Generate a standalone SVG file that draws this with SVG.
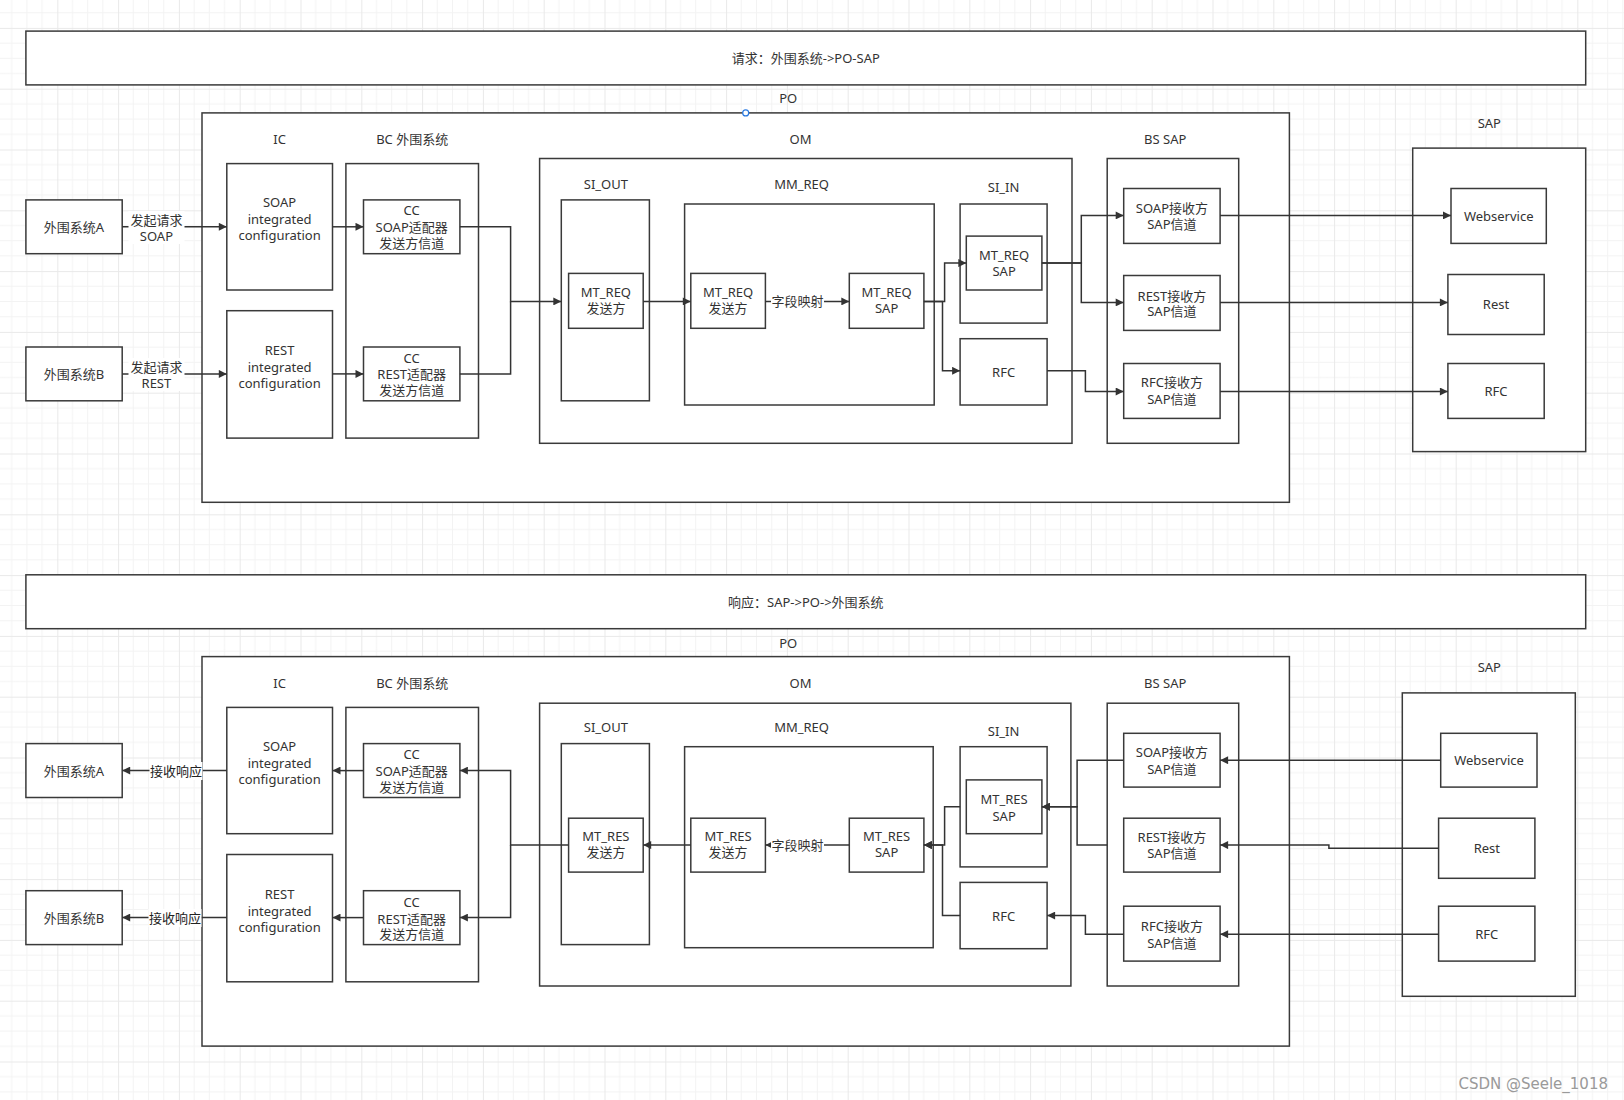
<svg xmlns="http://www.w3.org/2000/svg" width="1624" height="1100" viewBox="0 0 1624 1100">
<defs>
<pattern id="grid" patternUnits="userSpaceOnUse" x="-3.5" y="27.9" width="60.8" height="60.8">
<path d="M15.2,0V60.8M30.4,0V60.8M45.6,0V60.8M0,15.2H60.8M0,30.4H60.8M0,45.6H60.8" stroke="#f3f3f3" stroke-width="1" fill="none"/>
<path d="M0.5,0V60.8M0,0.5H60.8" stroke="#e9e9e9" stroke-width="1" fill="none"/>
</pattern>
<marker id="arr" viewBox="0 0 10 10" refX="10" refY="5" markerUnits="userSpaceOnUse" markerWidth="9" markerHeight="8" orient="auto">
<path d="M0,0L10,5L0,10z" fill="#333"/>
</marker>
<style>
.b{fill:#fff;stroke:#3a3a3a;stroke-width:1.5}
.t{font-family:"Noto Sans","Noto Sans CJK SC",sans-serif;font-size:13px;fill:#333;text-anchor:middle;dominant-baseline:central}
.k{fill:#222}
.c{fill:none;stroke:#333;stroke-width:1.5;marker-end:url(#arr)}
.n{fill:none;stroke:#333;stroke-width:1.5}
.lb{fill:#fff}
</style>
</defs>
<rect width="1624" height="1100" fill="#fff"/>
<rect width="1624" height="1100" fill="url(#grid)"/>

<!-- ===== Request section ===== -->
<g id="banner-req"><rect class="b" x="25.9" y="31.1" width="1559.8" height="53.8"/><text class="t" x="805.8" y="58">请求：外围系统-&gt;PO-SAP</text></g>
<g id="po-req"><rect class="b" x="202" y="112.9" width="1087.4" height="389.4"/><text class="t" x="788.2" y="98.4">PO</text>
<circle cx="745.7" cy="112.9" r="3" fill="#fff" stroke="#2a7ae2" stroke-width="1.2"/>
<text class="t" x="279.6" y="138.8">IC</text><text class="t" x="412.2" y="138.8">BC 外围系统</text><text class="t" x="800.6" y="138.8">OM</text><text class="t" x="1165.2" y="138.8">BS SAP</text></g>
<g id="extA-req"><rect class="b" x="25.9" y="199.9" width="96.3" height="53.8"/><text class="t" x="74" y="226.8">外围系统A</text></g>
<g id="extB-req"><rect class="b" x="25.9" y="347" width="96.3" height="53.8"/><text class="t" x="74" y="373.9">外围系统B</text></g>
<g id="ic-soap-req"><rect class="b" x="226.8" y="163.6" width="105.7" height="126.4"/><text class="t" x="279.6" y="202">SOAP</text><text class="t" x="279.6" y="218.5">integrated</text><text class="t" x="279.6" y="235">configuration</text></g>
<g id="ic-rest-req"><rect class="b" x="226.8" y="310.7" width="105.7" height="127.4"/><text class="t" x="279.6" y="350">REST</text><text class="t" x="279.6" y="366.6">integrated</text><text class="t" x="279.6" y="382.5">configuration</text></g>
<g id="bc-req"><rect class="b" x="345.9" y="163.6" width="132.6" height="274.5"/></g>
<g id="cc-soap-req"><rect class="b" x="363.5" y="199.9" width="96.4" height="53.8"/><text class="t" x="411.7" y="210.2">CC</text><text class="t" x="411.7" y="226.8">SOAP适配器</text><text class="t" x="411.7" y="243.3">发送方信道</text></g>
<g id="cc-rest-req"><rect class="b" x="363.5" y="347" width="96.4" height="53.8"/><text class="t" x="411.7" y="358.3">CC</text><text class="t" x="411.7" y="374">REST适配器</text><text class="t" x="411.7" y="390.2">发送方信道</text></g>
<g id="om-req"><rect class="b" x="539.6" y="158.5" width="532.4" height="284.8"/>
<text class="t" x="605.9" y="184.4">SI_OUT</text><text class="t" x="801.6" y="184.4">MM_REQ</text><text class="t" x="1003.6" y="187">SI_IN</text></g>
<g id="siout-req"><rect class="b" x="561.3" y="199.9" width="88.1" height="200.9"/></g>
<g id="siout-mtreq"><rect class="b" x="568.6" y="273.4" width="74.6" height="54.9"/><text class="t" x="605.9" y="292">MT_REQ</text><text class="t" x="605.9" y="308">发送方</text></g>
<g id="mm-req"><rect class="b" x="684.6" y="204" width="249.6" height="201"/></g>
<g id="mm-mtreq-send"><rect class="b" x="690.8" y="273.4" width="74.6" height="54.9"/><text class="t" x="728.1" y="292">MT_REQ</text><text class="t" x="728.1" y="308">发送方</text></g>
<g id="mm-mtreq-sap"><rect class="b" x="849.3" y="273.4" width="74.6" height="54.9"/><text class="t" x="886.6" y="292">MT_REQ</text><text class="t" x="886.6" y="308">SAP</text></g>
<g id="siin-req"><rect class="b" x="960.1" y="204" width="87" height="119.1"/></g>
<g id="siin-mtreq-sap"><rect class="b" x="966.3" y="236.1" width="75.6" height="53.9"/><text class="t" x="1004.1" y="255">MT_REQ</text><text class="t" x="1004.1" y="271">SAP</text></g>
<g id="rfc-om-req"><rect class="b" x="960.1" y="338.7" width="87" height="66.3"/><text class="t" x="1003.6" y="371.7">RFC</text></g>
<g id="bs-req"><rect class="b" x="1107.2" y="158.5" width="131.5" height="284.8"/></g>
<g id="soap-rx-req"><rect class="b" x="1123.7" y="188.5" width="96.4" height="54.9"/><text class="t" x="1171.9" y="208.3">SOAP接收方</text><text class="t" x="1171.9" y="224">SAP信道</text></g>
<g id="rest-rx-req"><rect class="b" x="1123.7" y="275.5" width="96.4" height="54.9"/><text class="t" x="1171.9" y="295.5">REST接收方</text><text class="t" x="1171.9" y="311">SAP信道</text></g>
<g id="rfc-rx-req"><rect class="b" x="1123.7" y="363.5" width="96.4" height="54.9"/><text class="t" x="1171.9" y="382.3">RFC接收方</text><text class="t" x="1171.9" y="398.5">SAP信道</text></g>
<g id="sap-req"><rect class="b" x="1412.7" y="148.1" width="173" height="303.5"/><text class="t" x="1489.3" y="122.5">SAP</text></g>
<g id="ws-req"><rect class="b" x="1451" y="188.5" width="95.3" height="54.9"/><text class="t" x="1498.7" y="216">Webservice</text></g>
<g id="rest-req"><rect class="b" x="1447.9" y="274.5" width="96.3" height="60"/><text class="t" x="1496" y="304.4">Rest</text></g>
<g id="rfc-req"><rect class="b" x="1447.9" y="363.5" width="96.3" height="54.9"/><text class="t" x="1496" y="391">RFC</text></g>

<!-- ===== Response section ===== -->
<g id="banner-res"><rect class="b" x="25.9" y="574.8" width="1559.8" height="53.9"/><text class="t" x="805.8" y="601.7">响应：SAP-&gt;PO-&gt;外围系统</text></g>
<g id="po-res"><rect class="b" x="202" y="656.6" width="1087.4" height="389.5"/><text class="t" x="788.2" y="643.2">PO</text>
<text class="t" x="279.6" y="682.5">IC</text><text class="t" x="412.2" y="682.5">BC 外围系统</text><text class="t" x="800.6" y="682.5">OM</text><text class="t" x="1165.2" y="682.5">BS SAP</text></g>
<g id="extA-res"><rect class="b" x="25.9" y="743.6" width="96.3" height="53.9"/><text class="t" x="74" y="770.6">外围系统A</text></g>
<g id="extB-res"><rect class="b" x="25.9" y="890.7" width="96.3" height="53.9"/><text class="t" x="74" y="917.6">外围系统B</text></g>
<g id="ic-soap-res"><rect class="b" x="226.8" y="707.4" width="105.7" height="126.3"/><text class="t" x="279.6" y="746">SOAP</text><text class="t" x="279.6" y="762.5">integrated</text><text class="t" x="279.6" y="779">configuration</text></g>
<g id="ic-rest-res"><rect class="b" x="226.8" y="854.5" width="105.7" height="127.3"/><text class="t" x="279.6" y="894">REST</text><text class="t" x="279.6" y="910.5">integrated</text><text class="t" x="279.6" y="926.7">configuration</text></g>
<g id="bc-res"><rect class="b" x="345.9" y="707.4" width="132.6" height="274.4"/></g>
<g id="cc-soap-res"><rect class="b" x="363.5" y="743.6" width="96.4" height="53.9"/><text class="t" x="411.7" y="754">CC</text><text class="t" x="411.7" y="770.8">SOAP适配器</text><text class="t" x="411.7" y="787.2">发送方信道</text></g>
<g id="cc-rest-res"><rect class="b" x="363.5" y="890.7" width="96.4" height="53.9"/><text class="t" x="411.7" y="902">CC</text><text class="t" x="411.7" y="918.6">REST适配器</text><text class="t" x="411.7" y="934.3">发送方信道</text></g>
<g id="om-res"><rect class="b" x="539.6" y="703.2" width="531.3" height="282.8"/>
<text class="t" x="605.9" y="727.1">SI_OUT</text><text class="t" x="801.6" y="727.1">MM_REQ</text><text class="t" x="1003.6" y="731.2">SI_IN</text></g>
<g id="siout-res"><rect class="b" x="561.3" y="743.6" width="88.1" height="201"/></g>
<g id="siout-mtres"><rect class="b" x="568.6" y="818.2" width="74.6" height="53.9"/><text class="t" x="605.9" y="836">MT_RES</text><text class="t" x="605.9" y="851.8">发送方</text></g>
<g id="mm-res"><rect class="b" x="684.6" y="746.7" width="248.6" height="201"/></g>
<g id="mm-mtres-send"><rect class="b" x="690.8" y="818.2" width="74.6" height="53.9"/><text class="t" x="728.1" y="836">MT_RES</text><text class="t" x="728.1" y="851.8">发送方</text></g>
<g id="mm-mtres-sap"><rect class="b" x="849.3" y="818.2" width="74.6" height="53.9"/><text class="t" x="886.6" y="836">MT_RES</text><text class="t" x="886.6" y="851.8">SAP</text></g>
<g id="siin-res"><rect class="b" x="960.1" y="746.7" width="87" height="120.2"/></g>
<g id="siin-mtres-sap"><rect class="b" x="966.3" y="779.9" width="75.6" height="53.8"/><text class="t" x="1004.1" y="799.3">MT_RES</text><text class="t" x="1004.1" y="815.6">SAP</text></g>
<g id="rfc-om-res"><rect class="b" x="960.1" y="882.4" width="87" height="66.3"/><text class="t" x="1003.6" y="916">RFC</text></g>
<g id="bs-res"><rect class="b" x="1107.2" y="703.2" width="131.5" height="282.8"/></g>
<g id="soap-rx-res"><rect class="b" x="1123.7" y="733.3" width="96.4" height="53.8"/><text class="t" x="1171.9" y="752">SOAP接收方</text><text class="t" x="1171.9" y="768.5">SAP信道</text></g>
<g id="rest-rx-res"><rect class="b" x="1123.7" y="818.2" width="96.4" height="53.9"/><text class="t" x="1171.9" y="837">REST接收方</text><text class="t" x="1171.9" y="852.6">SAP信道</text></g>
<g id="rfc-rx-res"><rect class="b" x="1123.7" y="906.2" width="96.4" height="54.9"/><text class="t" x="1171.9" y="926">RFC接收方</text><text class="t" x="1171.9" y="942.5">SAP信道</text></g>
<g id="sap-res"><rect class="b" x="1402.3" y="692.9" width="173" height="303.4"/><text class="t" x="1489.3" y="667">SAP</text></g>
<g id="ws-res"><rect class="b" x="1440.7" y="733.3" width="96.3" height="53.8"/><text class="t" x="1489" y="760.3">Webservice</text></g>
<g id="rest-res"><rect class="b" x="1438.6" y="818.2" width="96.3" height="60.1"/><text class="t" x="1486.8" y="848.3">Rest</text></g>
<g id="rfc-res"><rect class="b" x="1438.6" y="906.2" width="96.3" height="54.9"/><text class="t" x="1486.8" y="934.3">RFC</text></g>

<!-- ===== Connectors ===== -->
<g id="connectors">
<path class="c" d="M122.2,226.8H226.8"/>
<path class="c" d="M122.2,373.9H226.8"/>
<path class="c" d="M332.5,226.8H363.5"/>
<path class="c" d="M332.5,373.9H363.5"/>
<path class="c" d="M459.9,226.8H510.6V301.4H561.3"/>
<path class="n" d="M459.9,373.9H510.6V301.4"/>
<path class="c" d="M643.2,301.4H690.8"/>
<path class="c" d="M765.4,301.4H849.3"/>
<path class="c" d="M923.9,301.4H944.6V263.1H966.3"/>
<path class="c" d="M923.9,301.4H942.5V370.8H960.1"/>
<path class="c" d="M1041.9,263.1H1081.3V215.4H1123.7"/>
<path class="c" d="M1041.9,263.1H1081.3V302.4H1123.7"/>
<path class="c" d="M1047.1,370.8H1085.4V391.5H1123.7"/>
<path class="c" d="M1220.1,215.4H1451"/>
<path class="c" d="M1220.1,302.4H1447.9"/>
<path class="c" d="M1220.1,391.5H1447.9"/>

<path class="c" d="M226.8,770.6H122.2"/>
<path class="c" d="M226.8,917.6H122.2"/>
<path class="c" d="M363.5,770.6H332.5"/>
<path class="c" d="M363.5,917.6H332.5"/>
<path class="c" d="M568.6,845.1H510.6V770.6H459.9"/>
<path class="c" d="M510.6,845.1V917.6H459.9"/>
<path class="c" d="M690.8,845.1H643.2"/>
<path class="c" d="M849.3,845.1H765.4"/>
<path class="c" d="M960.1,806.8H944.6V845.1H923.9"/>
<path class="c" d="M960.1,915.6H942.5V845.1H923.9"/>
<path class="c" d="M1123.7,760.2H1077.1V806.8H1041.9"/>
<path class="c" d="M1107.2,845.1H1077.1V806.8H1041.9"/>
<path class="c" d="M1123.7,934.2H1085.4V915.6H1047.1"/>
<path class="c" d="M1440.7,760.2H1220.1"/>
<path class="c" d="M1438.6,848.2H1328.9V845.1H1220.1"/>
<path class="c" d="M1438.6,934.2H1220.1"/>

<rect class="lb" x="128.5" y="211" width="56" height="33"/>
<text class="t" x="156.4" y="219.8">发起请求</text><text class="t" x="156.4" y="236.1">SOAP</text>
<rect class="lb" x="128.5" y="358" width="56" height="33"/>
<text class="t" x="156.4" y="367">发起请求</text><text class="t" x="156.4" y="383.3">REST</text>
<rect class="lb" x="771" y="293" width="53" height="17"/>
<text class="t" x="797.5" y="301.4">字段映射</text>
<rect class="lb" x="771" y="837" width="53" height="17"/>
<text class="t" x="797.5" y="845.1">字段映射</text>
<rect class="lb" x="149.5" y="762" width="53" height="18"/>
<text class="t k" x="176" y="771">接收响应</text>
<rect class="lb" x="148.5" y="909" width="53" height="18"/>
<text class="t k" x="175" y="918">接收响应</text>
</g>

<text x="1608" y="1089" font-family="DejaVu Sans, sans-serif" font-size="15" fill="#9a9a9a" text-anchor="end">CSDN @Seele_1018</text>
</svg>
